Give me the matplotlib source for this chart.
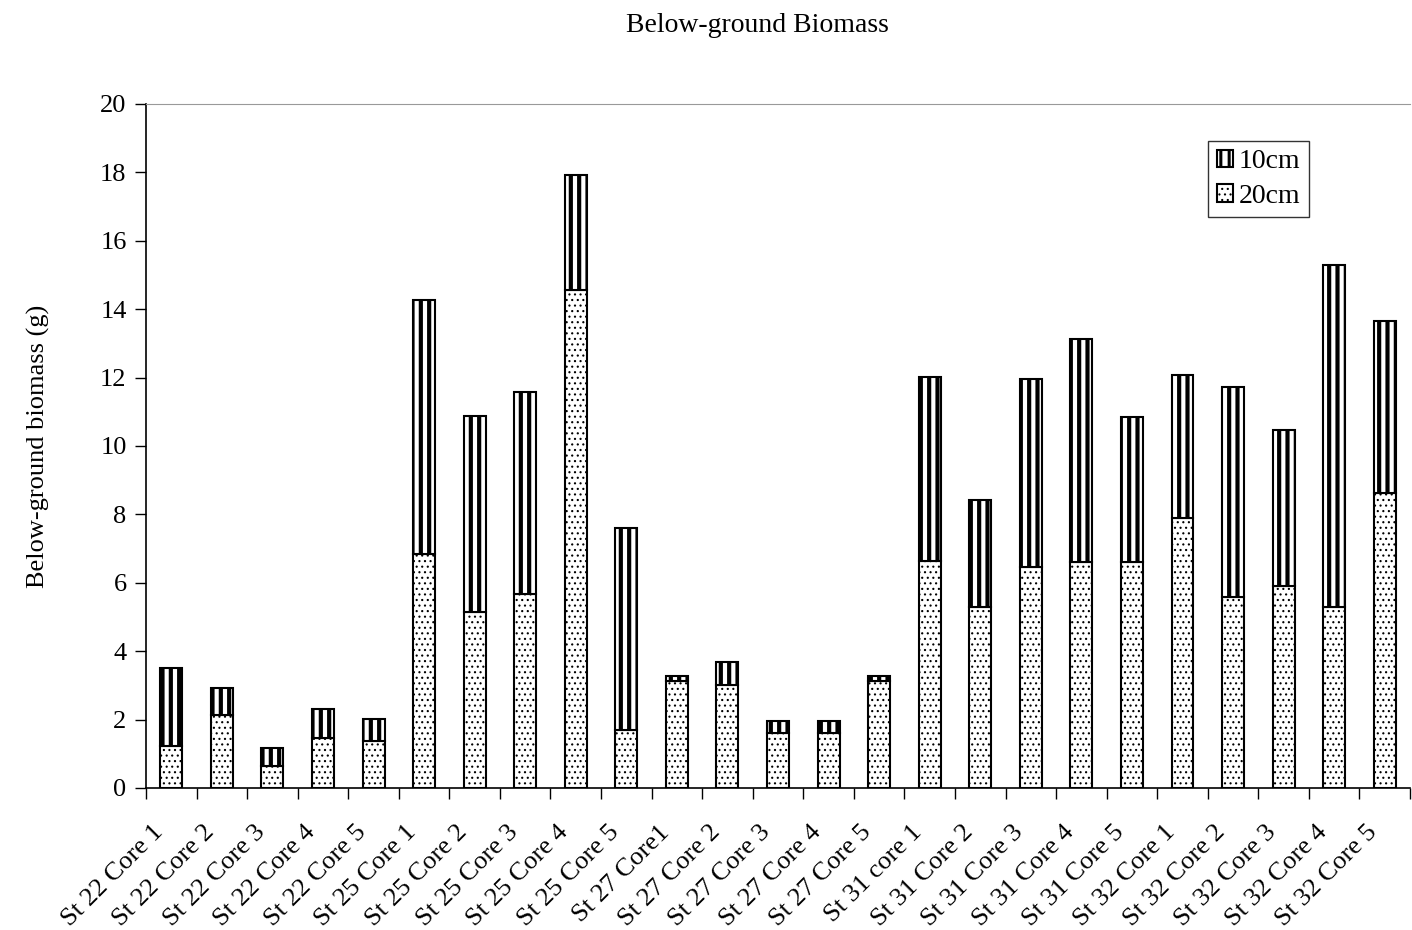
import matplotlib.pyplot as plt
import matplotlib.transforms as mtransforms
import numpy as np

plt.rcParams['font.family'] = ['Liberation Serif', 'DejaVu Serif']

labels = ['St 22 Core 1', 'St 22 Core 2', 'St 22 Core 3', 'St 22 Core 4', 'St 22 Core 5',
          'St 25 Core 1', 'St 25 Core 2', 'St 25 Core 3', 'St 25 Core 4', 'St 25 Core 5',
          'St 27 Core1', 'St 27 Core 2', 'St 27 Core 3', 'St 27 Core 4', 'St 27 Core 5',
          'St 31 core 1', 'St 31 Core 2', 'St 31 Core 3', 'St 31 Core 4', 'St 31 Core 5',
          'St 32 Core 1', 'St 32 Core 2', 'St 32 Core 3', 'St 32 Core 4', 'St 32 Core 5']

# 20cm (bottom) and total height
cm20 = [1.22, 2.12, 0.65, 1.45, 1.37,
        6.83, 5.15, 5.68, 14.55, 1.70,
        3.12, 3.00, 1.62, 1.62, 3.12,
        6.65, 5.28, 6.45, 6.62, 6.62,
        7.88, 5.58, 5.92, 5.30, 8.62]
total = [3.52, 2.93, 1.18, 2.32, 2.03,
         14.28, 10.87, 11.57, 17.93, 7.60,
         3.28, 3.67, 1.97, 1.97, 3.28,
         12.02, 8.42, 11.95, 13.13, 10.85,
         12.08, 11.72, 10.47, 15.30, 13.65]
cm10 = [t - b for t, b in zip(total, cm20)]


# hatch width is taken from rcParams when drawing, so wrap each patch's draw
def hatch_lw(patch, lw):
    if hasattr(patch, 'set_hatch_linewidth'):
        patch.set_hatch_linewidth(lw)
    orig = patch.draw

    def draw(renderer):
        with plt.rc_context({'hatch.linewidth': lw}):
            orig(renderer)
    patch.draw = draw


fig = plt.figure(figsize=(14.12, 9.30), dpi=100)
ax = fig.add_axes([0.1034, 0.1527, 0.8952, 0.7355])

x = np.arange(len(labels))
w = 0.435
b20 = ax.bar(x, cm20, w, color='white', edgecolor='black', hatch='...', linewidth=1.5, label='20cm')
b10 = ax.bar(x, cm10, w, bottom=cm20, color='white', edgecolor='black', hatch='||', linewidth=1.5, label='10cm')
for p in b20:
    hatch_lw(p, 0.8)
for p in b10:
    hatch_lw(p, 3.0)

ax.set_xlim(-0.5, len(labels) - 0.5)
ax.set_ylim(0, 20)
ax.set_yticks(range(0, 21, 2))
# tick marks sit between categories, labels are placed by hand
ax.set_xticks(np.arange(-0.5, len(labels), 1))
ax.set_xticklabels([])
offset = mtransforms.ScaledTranslation(-0.11, -0.41, fig.dpi_scale_trans)
for xi, lab in zip(x, labels):
    ax.text(xi, 0, lab, transform=ax.get_xaxis_transform() + offset, rotation=45,
            ha='right', va='center', rotation_mode='anchor', fontsize=19)
ax.tick_params(axis='x', length=8, direction='out', width=1)
ax.tick_params(axis='y', length=8, direction='out', width=1, labelsize=19, pad=6)

ax.spines['right'].set_visible(False)
ax.spines['top'].set_color('#999999')
ax.spines['left'].set_linewidth(1.2)
ax.spines['bottom'].set_linewidth(1.2)

ax.set_ylabel('Below-ground biomass (g)', fontsize=19, labelpad=36)
fig.text(0.5365, 0.973, 'Below-ground Biomass', ha='center', va='center', fontsize=20)

h, l = ax.get_legend_handles_labels()
leg = ax.legend(h[::-1], l[::-1], loc='upper right', bbox_to_anchor=(0.92, 0.946),
                fontsize=20, frameon=True, fancybox=False, edgecolor='black',
                handlelength=0.6, handleheight=0.6, handletextpad=0.2, borderpad=0.3,
                labelspacing=0.35, borderaxespad=0)
leg.get_frame().set_linewidth(1)
lp = leg.get_patches()
hatch_lw(lp[0], 2.2)
hatch_lw(lp[1], 0.8)

fig.savefig('out.png', dpi=100)
